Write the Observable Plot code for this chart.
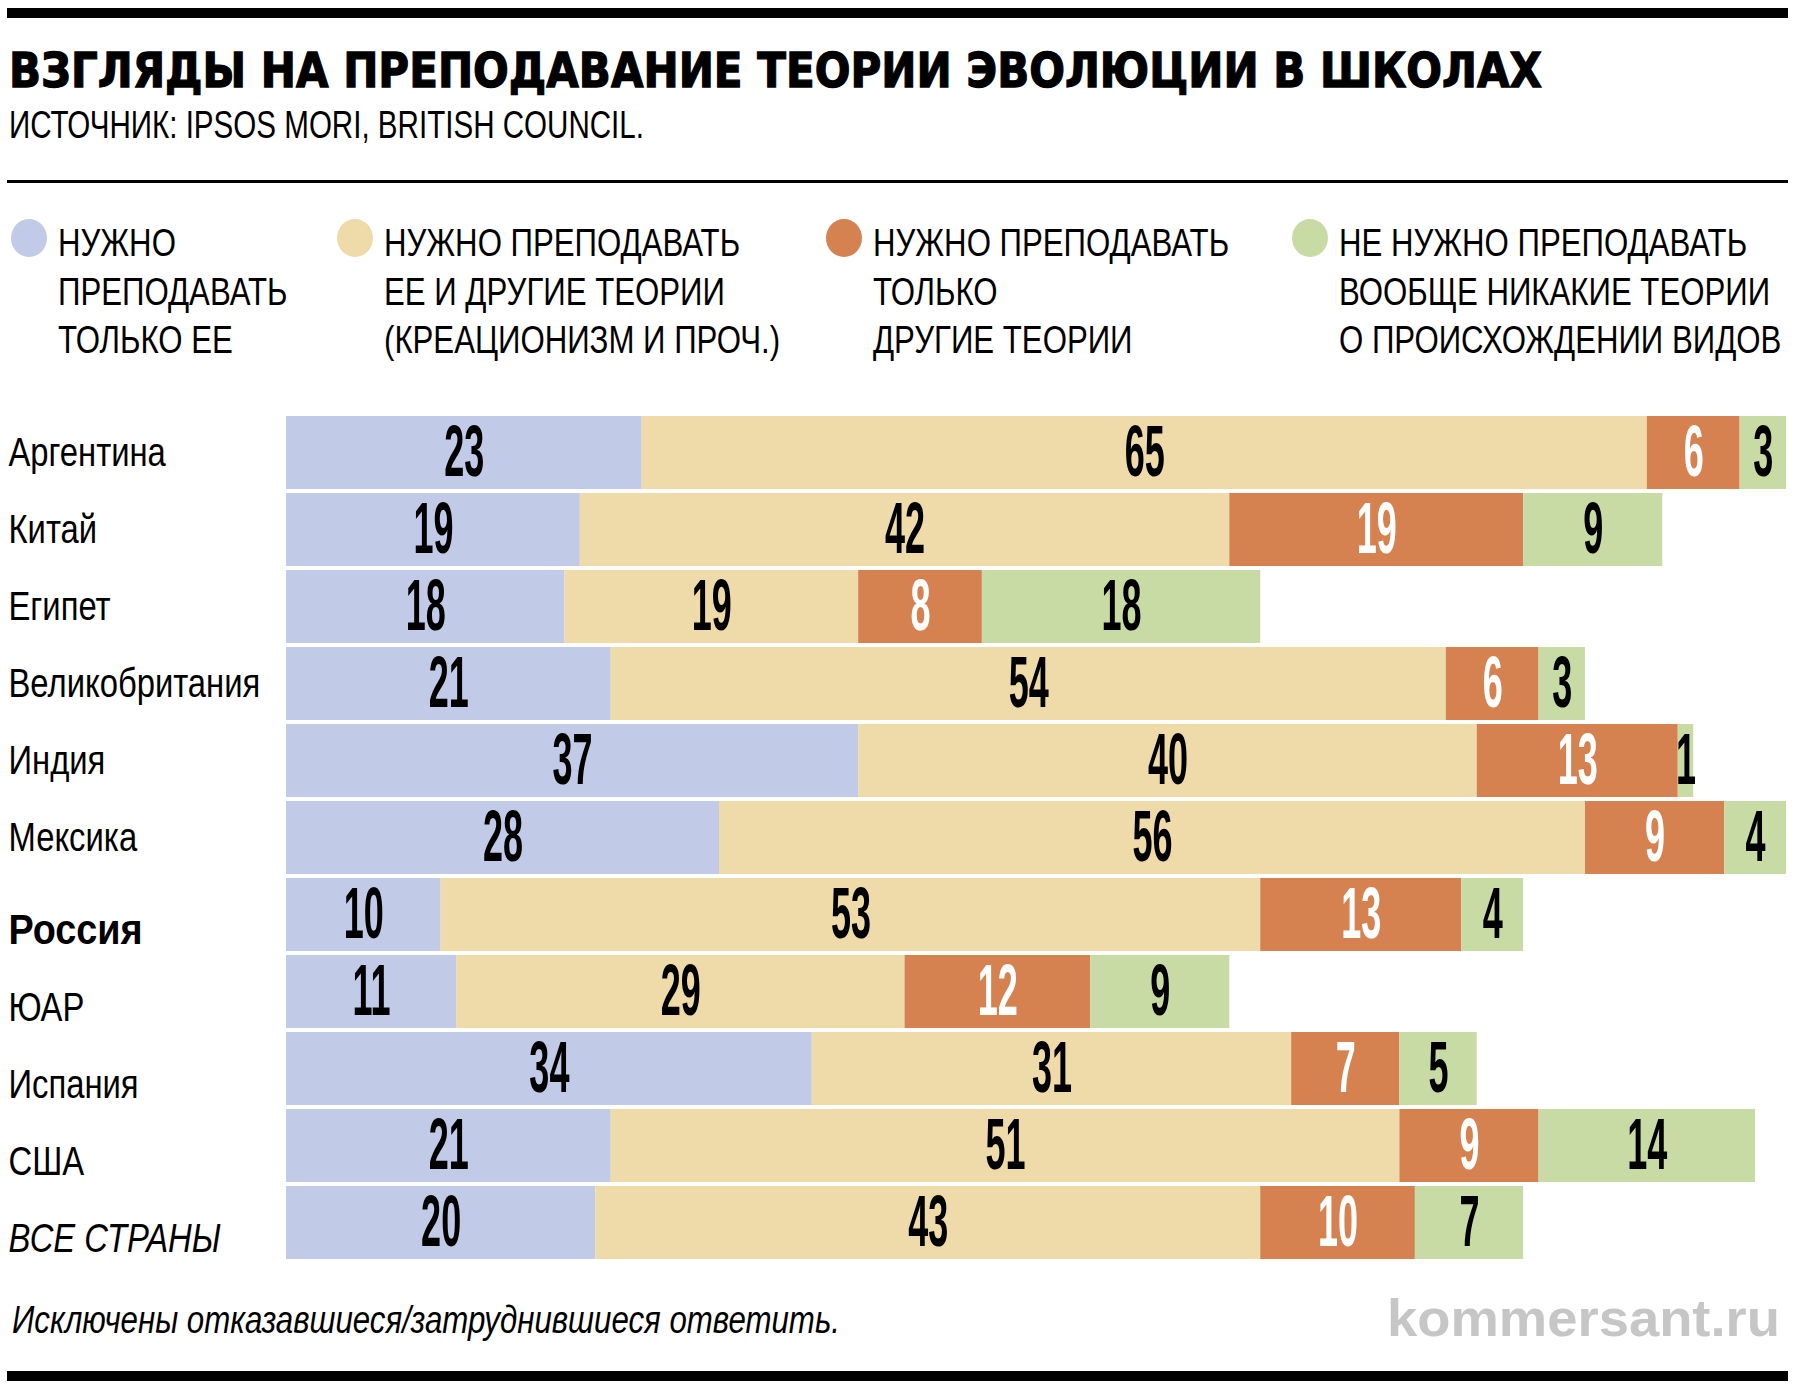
<!DOCTYPE html>
<html><head><meta charset="utf-8">
<script src="https://cdn.jsdelivr.net/npm/d3@7"></script>
<script src="https://cdn.jsdelivr.net/npm/@observablehq/plot@0.6"></script>
<style>
html,body{margin:0;padding:0;background:#fff;}
#wrap{position:relative;width:1798px;height:1390px;overflow:hidden;}
#wrap svg{position:absolute;left:0;}
</style></head><body><div id="wrap"></div>
<script>
const titleText = "ВЗГЛЯДЫ НА ПРЕПОДАВАНИЕ ТЕОРИИ ЭВОЛЮЦИИ В ШКОЛАХ";
const sourceText = "ИСТОЧНИК: IPSOS MORI, BRITISH COUNCIL.";
const noteText = "Исключены отказавшиеся/затруднившиеся ответить.";
const brandText = "kommersant.ru";

const countries = ["Аргентина","Китай","Египет","Великобритания","Индия","Мексика","Россия","ЮАР","Испания","США","ВСЕ СТРАНЫ"];
const onlyEvolution      = [23,19,18,21,37,28,10,11,34,21,20];
const evolutionAndOthers = [65,42,19,54,40,56,53,29,31,51,43];
const onlyOtherTheories  = [6,19,8,6,13,9,13,12,7,9,10];
const noTheoriesAtAll    = [3,9,18,3,1,4,4,9,5,14,7];

const seriesNames = ["только эволюция","эволюция и другие","только другие","никакие"];
const seriesColors = ["#c1cae6","#eedba9","#d58150","#c9dba5"];
const legendLines = [
  ["НУЖНО","ПРЕПОДАВАТЬ","ТОЛЬКО ЕЕ"],
  ["НУЖНО ПРЕПОДАВАТЬ","ЕЕ И ДРУГИЕ ТЕОРИИ","(КРЕАЦИОНИЗМ И ПРОЧ.)"],
  ["НУЖНО ПРЕПОДАВАТЬ","ТОЛЬКО","ДРУГИЕ ТЕОРИИ"],
  ["НЕ НУЖНО ПРЕПОДАВАТЬ","ВООБЩЕ НИКАКИЕ ТЕОРИИ","О ПРОИСХОЖДЕНИИ ВИДОВ"]
];

const seriesValues = [onlyEvolution, evolutionAndOthers, onlyOtherTheories, noTheoriesAtAll];
const rows = countries.flatMap((c, i) => seriesNames.map((s, j) => ({country: c, series: s, value: seriesValues[j][i]})));

const W = 1798;
const wrap = d3.select("#wrap");
const FONT = "Liberation Sans, Arial, sans-serif";

// ---------- header ----------
const head = wrap.append("svg").attr("width", W).attr("height", 414).style("top", "0px");
head.append("rect").attr("x", 7).attr("y", 8).attr("width", 1781).attr("height", 10).attr("fill", "#000");
head.append("text").attr("x", 9).attr("y", 87)
  .attr("font-family", "DejaVu Sans, sans-serif").attr("font-weight", "bold").attr("font-size", 48)
  .attr("stroke", "#000").attr("stroke-width", 1.3)
  .attr("textLength", 1533).attr("lengthAdjust", "spacingAndGlyphs").text(titleText);
head.append("text").attr("x", 9).attr("y", 138)
  .attr("font-family", FONT).attr("font-size", 38)
  .attr("textLength", 635).attr("lengthAdjust", "spacingAndGlyphs").text(sourceText);
head.append("rect").attr("x", 7).attr("y", 180).attr("width", 1781).attr("height", 3).attr("fill", "#000");

const legendX = [58, 384, 873, 1339];
legendLines.forEach((lines, k) => {
  head.append("ellipse").attr("cx", legendX[k] - 29).attr("cy", 238).attr("rx", 18).attr("ry", 19).attr("fill", seriesColors[k]);
  lines.forEach((line, m) => {
    head.append("text")
      .attr("transform", `translate(${legendX[k]},${256 + m * 48.5}) scale(0.8,1)`)
      .attr("font-family", FONT).attr("font-size", 39).text(line);
  });
});

// ---------- chart ----------
const orange = seriesNames[2];
const firstShifted = countries.indexOf("Россия");
const chart = Plot.plot({
  width: W, height: 847,
  marginLeft: 286, marginRight: 12, marginTop: 0, marginBottom: 0,
  x: {domain: [0, 97], axis: null},
  y: {domain: countries, paddingInner: 0.049, paddingOuter: 0, axis: null},
  color: {domain: seriesNames, range: seriesColors},
  style: {background: "transparent", overflow: "visible"},
  marks: [
    Plot.barX(rows, Plot.stackX({x: "value", y: "country", fill: "series"})),
    Plot.text(rows, Plot.stackX({
      x: "value", y: "country", text: d => String(d.value),
      fill: d => d.series === orange ? "white" : "black",
      fontSize: 72, fontWeight: "bold", fontFamily: FONT
    })),
    Plot.text(countries, {
      y: d => d, text: d => d, frameAnchor: "left", textAnchor: "start", dx: -278,
      fontSize: 41, fontFamily: FONT,
      filter: d => countries.indexOf(d) < firstShifted
    }),
    Plot.text(countries, {
      y: d => d, text: d => d, frameAnchor: "left", textAnchor: "start", dx: -278, dy: 16,
      fontSize: 42, fontWeight: "bold", fontFamily: FONT,
      filter: d => d === "Россия"
    }),
    Plot.text(countries, {
      y: d => d, text: d => d, frameAnchor: "left", textAnchor: "start", dx: -278, dy: 16,
      fontSize: 41, fontFamily: FONT,
      filter: d => countries.indexOf(d) > firstShifted && d !== "ВСЕ СТРАНЫ"
    }),
    Plot.text(countries, {
      y: d => d, text: d => d, frameAnchor: "left", textAnchor: "start", dx: -278, dy: 16,
      fontSize: 41, fontStyle: "italic", fontFamily: FONT,
      filter: d => d === "ВСЕ СТРАНЫ"
    })
  ]
});
d3.select(chart).style("top", "414px");
wrap.node().appendChild(chart);

function squeezeText(el, sx) {
  const t = el.getAttribute("transform");
  if (t) {
    el.setAttribute("transform", t + ` scale(${sx},1)`);
  } else {
    const x = +(el.getAttribute("x") || 0);
    el.setAttribute("x", x / sx);
    el.setAttribute("transform", `scale(${sx},1)`);
  }
}
d3.select(chart).selectAll("text").each(function () {
  const s = this.textContent.trim();
  if (/^\d+$/.test(s)) squeezeText(this, 0.5);
  else if (s === "Россия") squeezeText(this, 0.9);
  else if (countries.includes(s)) squeezeText(this, 0.8);
});

// ---------- footer ----------
const foot = wrap.append("svg").attr("width", W).attr("height", 129).style("top", "1261px");
foot.append("text").attr("x", 12).attr("y", 72)
  .attr("font-family", FONT).attr("font-style", "italic").attr("font-size", 39)
  .attr("textLength", 828).attr("lengthAdjust", "spacingAndGlyphs").text(noteText);
foot.append("text").attr("x", 1387).attr("y", 75)
  .attr("font-family", FONT).attr("font-weight", "bold").attr("font-size", 52).attr("fill", "#c6c6c6")
  .attr("textLength", 393).attr("lengthAdjust", "spacingAndGlyphs").text(brandText);
foot.append("rect").attr("x", 7).attr("y", 110).attr("width", 1781).attr("height", 10).attr("fill", "#000");
</script></body></html>
